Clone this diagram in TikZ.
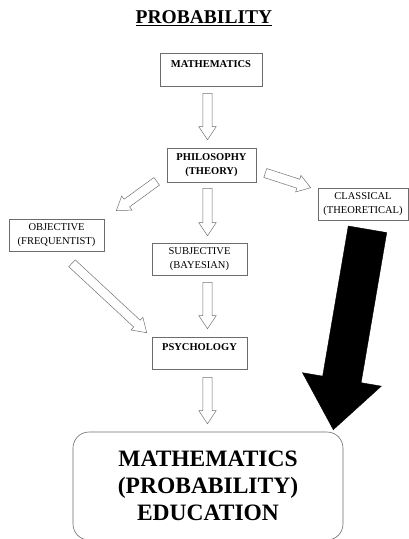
\documentclass[tikz,border=0pt]{standalone}
\usepackage{fontspec}
\setmainfont{Liberation Serif}
\usetikzlibrary{calc}

\begin{document}
\begin{tikzpicture}[x=1pt, y=-1pt,
  box/.style={draw=gray!85!black, line width=0.6pt, align=center, inner sep=0pt, font=\fontsize{10.5}{13.5}\selectfont},
  blockarrow/.style n args={3}{to path={let \p1=(\tikztostart), \p2=(\tikztotarget),
     \n1={atan2(\y2-\y1,\x2-\x1)}, \n2={veclen(\x2-\x1,\y2-\y1)} in
     ([shift={(\p1)},rotate=\n1]0pt,-#1) -- ([shift={(\p1)},rotate=\n1]{\n2-#3},-#1)
     -- ([shift={(\p1)},rotate=\n1]{\n2-#3},-#2) -- (\p2)
     -- ([shift={(\p1)},rotate=\n1]{\n2-#3},#2) -- ([shift={(\p1)},rotate=\n1]{\n2-#3},#1)
     -- ([shift={(\p1)},rotate=\n1]0pt,#1) -- cycle}},
  hollow/.style={draw=gray!90!black, fill=white, line width=0.5pt, blockarrow={4.7pt}{8.7pt}{13pt}},
  heavy/.style={fill=black, blockarrow={19.5pt}{40pt}{51pt}}]
\useasboundingbox (0,0) rectangle (409,539);

\node[font=\fontsize{19.5}{22}\selectfont\bfseries] (title) at (204,18) {\underline{PROBABILITY}};

% boxes
\node[box, minimum width=102, minimum height=33] (math) at (211,69.5) {\textbf{MATHEMATICS}\\[-2pt]~};
\node[box, minimum width=89, minimum height=34] (phil) at (211.5,165) {\textbf{PHILOSOPHY}\\\textbf{(THEORY)}};
\node[box, minimum width=95, minimum height=32] (obj) at (56.5,235) {OBJECTIVE\\(FREQUENTIST)};
\node[box, minimum width=95, minimum height=32] (subj) at (199.5,259) {SUBJECTIVE\\(BAYESIAN)};
\node[box, minimum width=90, minimum height=32] (class) at (363,204) {CLASSICAL\\(THEORETICAL)};
\node[box, minimum width=95, minimum height=32] (psych) at (199.5,353) {\textbf{PSYCHOLOGY}\\[-2pt]~};
\node[draw=gray!85!black, line width=0.6pt, rounded corners=16pt, minimum width=270, minimum height=108, align=center,
  font=\fontsize{23.5}{27}\selectfont\bfseries] (edu) at (208,486) {MATHEMATICS\\(PROBABILITY)\\EDUCATION};

% arrows
\draw[hollow] ([xshift=-3.5pt,yshift=-7pt]math.south) to ([xshift=-4pt,yshift=8pt]phil.north);
\draw[hollow] ([xshift=-4pt,yshift=-6pt]phil.south) to ([xshift=8pt,yshift=7pt]subj.north);
\draw[hollow] ([xshift=-10pt,yshift=1pt]phil.south west) to ([xshift=12pt,yshift=8pt]obj.north east);
\draw[hollow] ([xshift=9pt,yshift=-8pt]phil.east) to ([xshift=-7pt]class.north west);
\draw[hollow] ([xshift=15.5pt,yshift=-12pt]obj.south) to ([xshift=-5pt,yshift=4pt]psych.north west);
\draw[hollow] ([xshift=8pt,yshift=-7pt]subj.south) to ([xshift=8pt,yshift=8pt]psych.north);
\draw[hollow] ([xshift=8pt,yshift=-8pt]psych.south) to ([xshift=-0.5pt,yshift=8pt]edu.north);
\draw[heavy] ([xshift=4.5pt,yshift=-9pt]class.south) to ([xshift=-10pt,yshift=2pt]edu.north east);
\end{tikzpicture}
\end{document}
